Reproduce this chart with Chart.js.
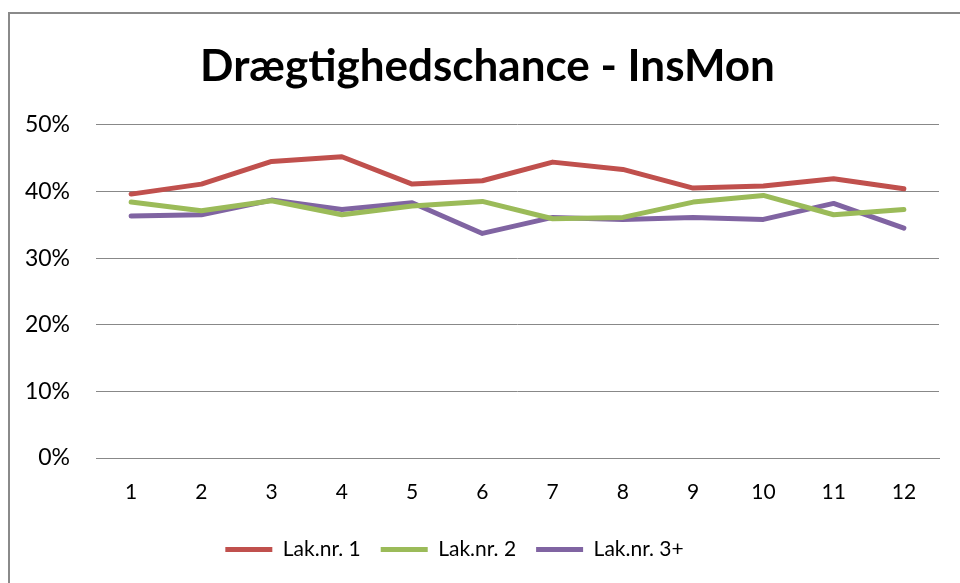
<!DOCTYPE html>
<html>
<head>
<meta charset="utf-8">
<script src="https://cdn.jsdelivr.net/npm/chart.js@4/dist/chart.umd.min.js"></script>
<style>
  html, body { margin: 0; padding: 0; background: #fff; overflow: hidden; }
  #wrap { position: relative; width: 960px; height: 583px; }
  #frame { position: absolute; left: 8px; top: 12px; width: 980px; height: 620px;
           border: 2px solid #8a8a8a; pointer-events: none; box-sizing: border-box; }
  canvas { position: absolute; left: 0; top: 0; }
</style>
</head>
<body>
<div id="wrap">
  <canvas id="c" width="960" height="583"></canvas>
  <div id="frame"></div>
</div>
<script>
const chartTitle = 'Drægtighedschance - InsMon';
const categories = ['1','2','3','4','5','6','7','8','9','10','11','12'];
const seriesNames = ['Lak.nr. 1', 'Lak.nr. 2', 'Lak.nr. 3+'];
const lak1 = [39.6, 41.1, 44.5, 45.2, 41.1, 41.6, 44.4, 43.3, 40.5, 40.8, 41.9, 40.4];
const lak2 = [38.4, 37.1, 38.6, 36.5, 37.8, 38.5, 35.9, 36.1, 38.4, 39.4, 36.5, 37.3];
const lak3 = [36.3, 36.5, 38.7, 37.3, 38.3, 33.7, 36.1, 35.8, 36.1, 35.8, 38.2, 34.5];
const yTicks = [0, 10, 20, 30, 40, 50];
const colors = ['#C0504D', '#9BBB59', '#8064A2'];

const seriesData = [lak1, lak2, lak3];
const FONT = 'Lato, "Open Sans", sans-serif';

// pick y tick font size so that "50%" is about 45px wide, as in the original
const mctx = document.createElement('canvas').getContext('2d');
mctx.font = '23px ' + FONT;
const w50 = mctx.measureText('50%').width || 45;
const yFontSize = Math.max(20, Math.min(27, Math.round(23 * 45 / w50)));

// shift title and legend horizontally to match the original's centring
const shiftBlocks = {
  id: 'shiftBlocks',
  afterLayout(chart) {
    const t = chart.titleBlock;
    if (t) { t.left += 18; t.right += 18; }
    const l = chart.legend;
    if (l) { l.left -= 15; l.right -= 15; }
  }
};

new Chart(document.getElementById('c'), {
  type: 'line',
  data: {
    labels: categories,
    datasets: seriesData.map((d, i) => ({
      label: seriesNames[i],
      data: d,
      borderColor: colors[i],
      backgroundColor: colors[i],
      borderWidth: 5,
      borderCapStyle: 'round',
      borderJoinStyle: 'round',
      pointRadius: 0,
      pointHoverRadius: 0,
      tension: 0,
      fill: false
    }))
  },
  plugins: [shiftBlocks],
  options: {
    responsive: false,
    animation: false,
    events: [],
    layout: { padding: { top: 0, left: 0, right: 21, bottom: 13 } },
    plugins: {
      title: {
        display: true,
        text: chartTitle,
        color: '#000',
        font: { family: FONT, size: 44, weight: 'bold' },
        padding: { top: 40, bottom: 32 }
      },
      legend: {
        display: true,
        position: 'bottom',
        labels: {
          color: '#000',
          font: { family: FONT, size: 21 },
          boxWidth: 47,
          boxHeight: 5,
          padding: 20,
          generateLabels: (chart) => chart.data.datasets.map((ds, i) => ({
            text: ds.label,
            fillStyle: ds.borderColor,
            strokeStyle: ds.borderColor,
            lineWidth: 0,
            fontColor: '#000',
            hidden: false,
            datasetIndex: i
          }))
        }
      },
      tooltip: { enabled: false }
    },
    scales: {
      x: {
        offset: true,
        grid: { display: false, drawTicks: false },
        border: { display: true, color: '#888', width: 1 },
        ticks: { color: '#000', font: { family: FONT, size: 21 }, padding: 22, maxRotation: 0 },
        afterFit: (s) => { s.height = 61; }
      },
      y: {
        min: 0,
        max: 50,
        afterBuildTicks: (s) => { s.ticks = yTicks.map(v => ({ value: v })); },
        grid: { color: '#888', lineWidth: 1, drawTicks: false },
        border: { display: false },
        ticks: {
          color: '#000',
          font: { family: FONT, size: yFontSize },
          padding: 26,
          callback: (v) => v + '%'
        },
        afterFit: (s) => { s.width = 96; }
      }
    }
  }
});
</script>
</body>
</html>
